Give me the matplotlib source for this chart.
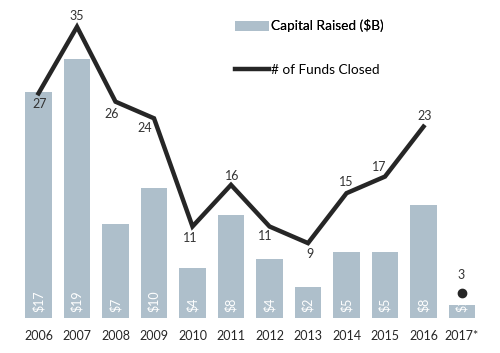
import matplotlib
matplotlib.use("Agg")
import matplotlib.pyplot as plt
from matplotlib.patches import Patch
from matplotlib.lines import Line2D

years = ["2006", "2007", "2008", "2009", "2010", "2011", "2012", "2013", "2014", "2015", "2016", "2017*"]
capital = [16.9, 19.3, 7.0, 9.7, 3.7, 7.7, 4.4, 2.3, 4.9, 4.9, 8.4, 1.0]
capital_labels = ["$17", "$19", "$7", "$10", "$4", "$8", "$4", "$2", "$5", "$5", "$8", "$1"]
funds = [27, 35, 26, 24, 11, 16, 11, 9, 15, 17, 23]
funds_2017 = 3

plt.rcParams['font.family'] = ['Lato', 'DejaVu Sans']
W, H = 500, 353
fig = plt.figure(figsize=(5, 3.53), dpi=100)
bottom_px, top_px = 318, 10
ax = fig.add_axes([19.25 / W, (H - bottom_px) / H, (481.25 - 19.25) / W, (bottom_px - top_px) / H])
ax2 = ax.twinx()

bar_color = "#aebfcb"
x = list(range(len(years)))
ax.bar(x, capital, width=0.70, color=bar_color)
ax.set_xlim(-0.5, len(years) - 0.5)
ax.set_ylim(0, (bottom_px - top_px) / 13.4)
for i, (v, lab) in enumerate(zip(capital, capital_labels)):
    ax.text(i, 0.45, lab, rotation=90, ha="center", va="bottom", color="white", fontsize=9)

ax2.set_ylim(0, (bottom_px - top_px) / 8.32)
line_color = "#262626"
ax2.plot(x[:len(funds)], funds, color=line_color, lw=3.2, solid_joinstyle="miter")
ax2.plot([x[-1]], [funds_2017], "o", color=line_color, ms=6)

offsets = [(1, -11), (0, 11), (-4, -12), (-9, -10), (-2, -12), (1, 9), (-4, -10), (2, -11), (0, 11), (-6, 10), (1, 11)]
for i, (v, off) in enumerate(zip(funds, offsets)):
    ax2.annotate(str(v), (i, v), xytext=off, textcoords="offset pixels",
                 ha="center", va="center", fontsize=9, color="#333333")
ax2.annotate(str(funds_2017), (x[-1], funds_2017), xytext=(-1, 18), textcoords="offset pixels",
             ha="center", va="center", fontsize=9, color="#333333")

for a in (ax, ax2):
    for s in a.spines.values():
        s.set_visible(False)
    a.set_yticks([])
ax.set_xticks(x)
ax.set_xticklabels(years, fontsize=9, color="#262626")
ax.tick_params(axis="x", length=0, pad=9)

handles1 = [Patch(facecolor=bar_color, edgecolor="none")]
handles2 = [Line2D([0], [0], color=line_color, lw=3.2)]
leg1 = fig.legend(handles1, ["Capital Raised ($B)"], loc="center left",
                  bbox_to_anchor=(235 / W, 1 - 26 / H), frameon=False, fontsize=9.8,
                  handlelength=2.5, handletextpad=0.15, borderaxespad=0, borderpad=0)
leg2 = fig.legend(handles2, ["# of Funds Closed"], loc="center left",
                  bbox_to_anchor=(235 / W, 1 - 70 / H), frameon=False, fontsize=9.8,
                  handlelength=2.5, handletextpad=0.15, borderaxespad=0, borderpad=0)
fig.add_artist(leg1)

fig.savefig("out.png", dpi=100)
